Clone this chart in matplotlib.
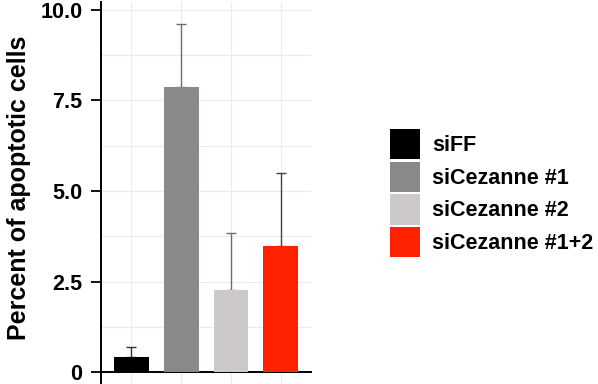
import matplotlib
matplotlib.use("Agg")
import matplotlib.pyplot as plt
from matplotlib.patches import Patch
import numpy as np

plt.rcParams['font.family'] = ['Liberation Sans', 'DejaVu Sans']

# condiciones y resultados
grupos = ["siFF", "siCezanne #1", "siCezanne #2", "siCezanne #1+2"]
media = [0.42, 7.86, 2.27, 3.48]
error = [0.28, 1.76, 1.58, 2.01]
colores = ["#000000", "#8a8888", "#cdc9c9", "#ff2200"]
color_err = ["#333333", "#6e6e6e", "#6e6e6e", "#444444"]

ticks_y = [0, 2.5, 5.0, 7.5, 10.0]
etiquetas_y = ["0", "2.5", "5.0", "7.5", "10.0"]

fig = plt.figure(figsize=(5.98, 3.84), dpi=100)
ax = fig.add_axes([0.169, 0.0, 0.351, 0.995])

pos = np.arange(1, len(grupos) + 1)
ax.bar(pos, media, width=0.7, color=colores, zorder=3)
for x, m, e, c in zip(pos, media, error, color_err):
    ax.errorbar(x, m, yerr=[[0], [e]], fmt="none", ecolor=c,
                elinewidth=1.0, capsize=3.6, capthick=1.0, zorder=2)

ax.set_xlim(0.4, 4.6)
ax.set_ylim(-0.33, 10.22)

# rejilla suave
ax.set_yticks(ticks_y)
ax.set_yticklabels(etiquetas_y, fontsize=15.5, fontweight="bold")
ax.set_yticks(np.arange(1.25, 10.1, 2.5), minor=True)
ax.set_xticks(pos)
ax.set_xticklabels([])
ax.tick_params(axis="x", length=0)
ax.tick_params(axis="y", which="major", length=7, width=1.3, pad=6.5)
ax.tick_params(axis="y", which="minor", length=0)
ax.grid(True, which="both", color="#ebebeb", linewidth=0.8, zorder=0)

for lado in ["top", "right"]:
    ax.spines[lado].set_visible(False)
ax.spines["bottom"].set_position(("data", 0))
ax.spines["bottom"].set_linewidth(1.4)
ax.spines["left"].set_linewidth(1.4)

fig.text(0.032, 0.51, "Percent of apoptotic cells", rotation=90,
         fontsize=18, fontweight="bold", ha="center", va="center")

handles = [Patch(facecolor=c) for c in colores]
fig.legend(handles, grupos, loc="center left", bbox_to_anchor=(0.652, 0.497),
           frameon=False, prop={"size": 15.5, "weight": "bold"},
           handlelength=1.4, handleheight=1.8, labelspacing=0.1,
           handletextpad=0.55, borderpad=0, borderaxespad=0)

plt.savefig("out.png", dpi=100)
